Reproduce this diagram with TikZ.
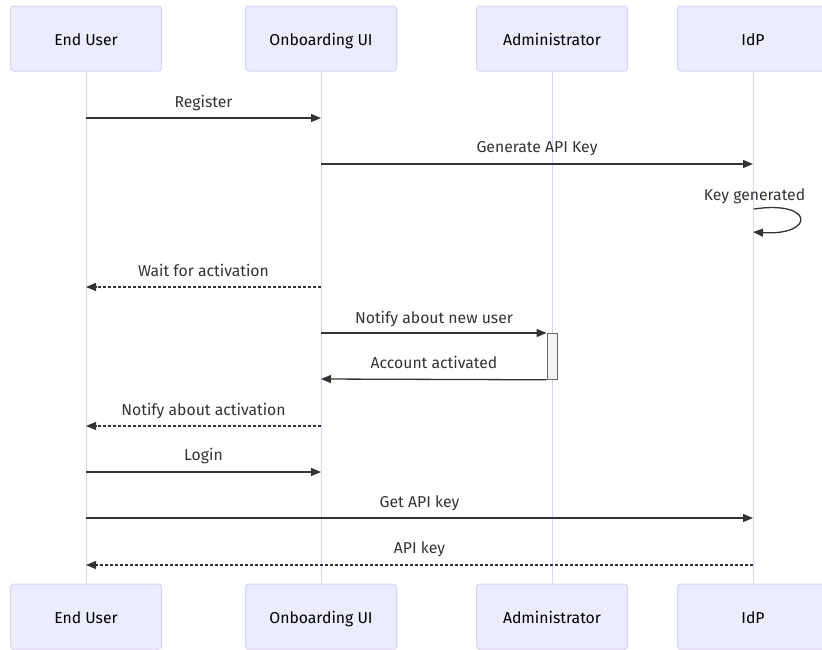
\documentclass[tikz,border=0pt]{standalone}
\usepackage{fontspec}
\setmainfont{Fira Sans}
\usetikzlibrary{arrows.meta}
\definecolor{actfill}{RGB}{236,236,255}
\definecolor{actline}{RGB}{220,210,244}
\definecolor{ink}{RGB}{51,51,51}
\definecolor{actbox}{RGB}{244,244,244}
\definecolor{actedge}{RGB}{102,102,102}
\begin{document}
\begin{tikzpicture}[x=1pt,y=-1pt,
  actor/.style={draw=actline, fill=actfill, rounded corners=3pt, line width=1pt,
    minimum width=151pt, minimum height=65pt, inner sep=0pt,
    text height=14pt, text depth=0pt,
    font=\fontsize{15.75}{18}\selectfont, text=black},
  lifeline/.style={draw=actline, line width=1pt},
  msg/.style={draw=ink, line width=1.3pt, -{Triangle[length=10pt,width=8pt]}},
  reply/.style={msg, dash pattern=on 3pt off 2pt},
  lbl/.style={font=\fontsize{15.75}{18}\selectfont, text=ink, inner sep=0pt,
    text height=11pt, text depth=3.5pt},
  activation/.style={draw=actedge, fill=actbox, line width=0.8pt, minimum width=10pt,
    minimum height=46pt, inner sep=0pt}]
\useasboundingbox (0,0) rectangle (822,649);

% participants, top and bottom
\node[actor] (u1) at (86,38.5) {End User};
\node[actor] (o1) at (321,38.5) {Onboarding UI};
\node[actor] (a1) at (552,38.5) {Administrator};
\node[actor] (i1) at (753,38.5) {IdP};
\node[actor] (u2) at (86,616.5) {End User};
\node[actor] (o2) at (321,616.5) {Onboarding UI};
\node[actor] (a2) at (552,616.5) {Administrator};
\node[actor] (i2) at (753,616.5) {IdP};

% lifelines
\draw[lifeline] (u1.south) -- (u2.north);
\draw[lifeline] (o1.south) -- (o2.north);
\draw[lifeline] (a1.south) -- (a2.north);
\draw[lifeline] (i1.south) -- (i2.north);

% message end points on the lifelines
\coordinate (u-reg) at (86,118);   \coordinate (o-reg) at (321,118);
\coordinate (o-gen) at (321,164);  \coordinate (i-gen) at (753,164);
\coordinate (i-k1) at (754,209);   \coordinate (i-k2) at (753,232);
\coordinate (o-wait) at (321,287); \coordinate (u-wait) at (86,287);
\coordinate (o-new) at (321,333);
\coordinate (o-acc) at (321,379);
\coordinate (o-nact) at (321,426); \coordinate (u-nact) at (86,426);
\coordinate (u-log) at (86,472);   \coordinate (o-log) at (321,472);
\coordinate (u-get) at (86,518);   \coordinate (i-get) at (753,518);
\coordinate (i-key) at (753,565);  \coordinate (u-key) at (86,565);

% activation bar on Administrator
\node[activation, anchor=north] (act) at (552,333) {};

% messages
\draw[msg] (u-reg) -- (o-reg);
\node[lbl] (t-reg) at (203.5,103.75) {Register};

\draw[msg] (o-gen) -- (i-gen);
\node[lbl] (t-gen) at (537,148.75) {Generate API Key};

\draw[msg] (i-k1) .. controls (815,200) and (815,236) .. (i-k2);
\node[lbl] (t-key) at (754.5,196.75) {Key generated};

\draw[reply] (o-wait) -- (u-wait);
\node[lbl] (t-wait) at (203.5,272.75) {Wait for activation};

\draw[msg] (o-new) -- (act.north west);
\node[lbl] (t-new) at (434,319.75) {Notify about new user};

\draw[msg] (act.south west) -- (o-acc);
\node[lbl] (t-acc) at (434,364.75) {Account activated};

\draw[reply] (o-nact) -- (u-nact);
\node[lbl] (t-nact) at (203.5,411.75) {Notify about activation};

\draw[msg] (u-log) -- (o-log);
\node[lbl] (t-log) at (203.5,456.75) {Login};

\draw[msg] (u-get) -- (i-get);
\node[lbl] (t-get) at (419.5,503.75) {Get API key};

\draw[reply] (i-key) -- (u-key);
\node[lbl] (t-apikey) at (419.5,549.75) {API key};
\end{tikzpicture}
\end{document}
